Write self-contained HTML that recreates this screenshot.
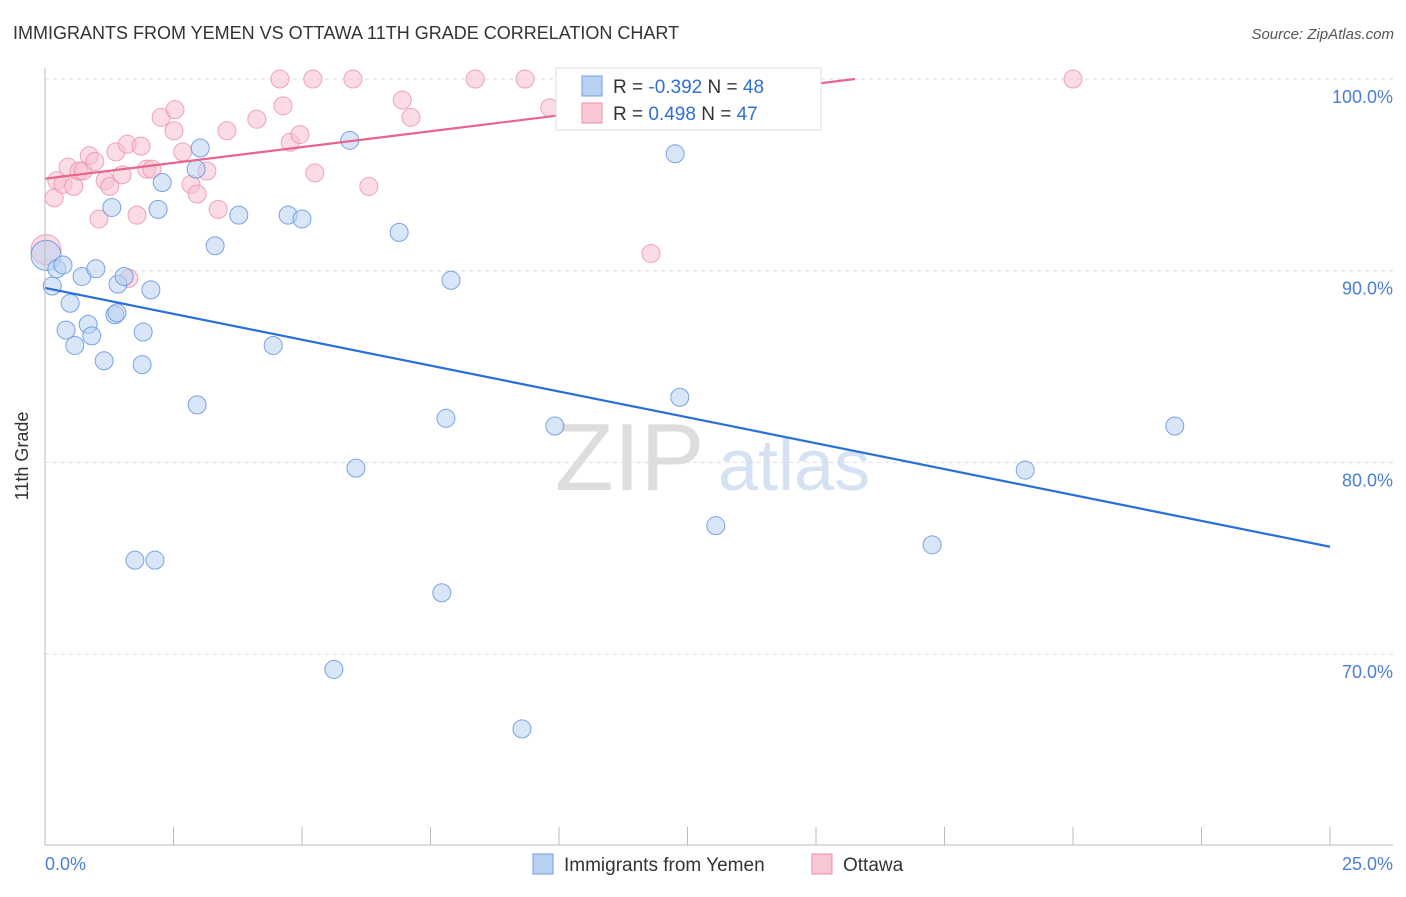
<!DOCTYPE html>
<html><head><meta charset="utf-8"><style>
body{margin:0;background:#fff;font-family:"Liberation Sans",sans-serif;}
svg text{font-family:"Liberation Sans",sans-serif;}
</style></head><body>
<svg width="1406" height="892">
<text x="13" y="39" font-size="18" fill="#333">IMMIGRANTS FROM YEMEN VS OTTAWA 11TH GRADE CORRELATION CHART</text>
<text x="1394" y="39" font-size="15" fill="#555" font-style="italic" text-anchor="end">Source: ZipAtlas.com</text>
<text x="555" y="490" font-size="96" fill="#ddd" font-family="Liberation Serif">ZIP</text>
<text x="718" y="490" font-size="72" fill="#d5e2f3">atlas</text>
<g id="grid"></g><g id="pts"></g><g id="lines"></g>
<line x1="45" y1="68" x2="45" y2="845" stroke="#bbb"/>
<line x1="45" y1="845" x2="1393" y2="845" stroke="#bbb"/>
<text x="28" y="456" font-size="18" fill="#333" transform="rotate(-90 28 456)" text-anchor="middle">11th Grade</text>
<text x="45" y="870" font-size="18" fill="#4a7fd4">0.0%</text>
<text x="1393" y="870" font-size="18" fill="#4a7fd4" text-anchor="end">25.0%</text>
<g>
<rect x="556" y="68" width="265" height="62" fill="#fff" stroke="#ddd"/>
<rect x="582" y="76" width="20" height="20" fill="#b9d2f3" stroke="#6d9ee6"/>
<rect x="582" y="103" width="20" height="20" fill="#f9c6d4" stroke="#ec8fab"/>
<text x="613" y="93" font-size="19" fill="#333">R = <tspan fill="#2f6fd6">-0.392</tspan>   N = <tspan fill="#2f6fd6">48</tspan></text>
<text x="613" y="120" font-size="19" fill="#333">R =  <tspan fill="#2f6fd6"> 0.498</tspan>   N = <tspan fill="#2f6fd6">47</tspan></text>
</g>
<g>
<rect x="533" y="854" width="20" height="20" fill="#b9d2f3" stroke="#6d9ee6"/>
<text x="564" y="871" font-size="19" fill="#333">Immigrants from Yemen</text>
<rect x="812" y="854" width="20" height="20" fill="#f9c6d4" stroke="#ec8fab"/>
<text x="843" y="871" font-size="19" fill="#333">Ottawa</text>
</g>
</svg>
<script>
const yTicks=[100,90,80,70];
const xTicks=[0,2.5,5,7.5,10,12.5,15,17.5,20,22.5,25];
const blueX=[0.02,0.14,0.23,0.35,0.49,0.41,0.58,0.84,0.72,0.99,0.91,1.15,1.30,1.36,1.42,1.54,1.89,1.91,2.06,2.20,2.28,1.75,2.14,2.96,2.94,3.02,3.31,3.77,4.44,4.73,5.00,5.93,6.05,5.62,6.89,7.72,7.80,7.90,9.28,9.92,12.26,12.35,13.05,17.26,19.07,21.98,1.40];
const blueY=[90.8,89.2,90.1,90.3,88.3,86.9,86.1,87.2,89.7,90.1,86.6,85.3,93.3,87.7,89.3,89.7,85.1,86.8,89.0,93.2,94.6,74.9,74.9,83.0,95.3,96.4,91.3,92.9,86.1,92.9,92.7,96.8,79.7,69.2,92.0,73.2,82.3,89.5,66.1,81.9,96.1,83.4,76.7,75.7,79.6,81.9,87.8];
const pinkX=[0.02,0.18,0.23,0.35,0.45,0.56,0.66,0.74,0.86,0.97,1.05,1.17,1.26,1.38,1.50,1.60,1.79,1.87,1.98,2.08,2.26,2.53,2.51,2.68,2.84,2.96,3.15,3.37,3.54,4.12,4.57,4.63,4.77,4.96,5.21,5.25,5.99,6.30,6.95,7.12,8.37,9.34,9.82,11.52,11.79,20.0,1.63];
const pinkY=[91.1,93.8,94.7,94.5,95.4,94.4,95.2,95.2,96.0,95.7,92.7,94.7,94.4,96.2,95.0,96.6,92.9,96.5,95.3,95.3,98.0,98.4,97.3,96.2,94.5,94.0,95.2,93.2,97.3,97.9,100,98.6,96.7,97.1,100,95.1,100,94.4,98.9,98.0,100,100,98.5,100,90.9,100,89.6];
const blueTrend=[89.1,75.6];
const pinkTrend=[94.8,0.33];
const X=v=>45+v/25*1285, Y=v=>79+(100-v)*19.17;
const NS="http://www.w3.org/2000/svg";
function mk(t,a,p){const e=document.createElementNS(NS,t);for(const k in a)e.setAttribute(k,a[k]);p.appendChild(e);return e;}
const g=document.getElementById('grid');
yTicks.forEach(t=>{
 const l=mk('line',{x1:45,x2:1393,y1:Y(t),y2:Y(t),stroke:'#ddd','stroke-dasharray':'4,4'},g);
 
 
 const tx=mk('text',{x:1393,y:Y(t)+24,'font-size':18,fill:'#4a7fd4','text-anchor':'end'},g);
 tx.textContent=t.toFixed(1)+'%';
 
 
});
xTicks.forEach(t=>{
 const l=mk('line',{x1:X(t),x2:X(t),y1:827,y2:845,stroke:'#bbb'},g);
 
 
});
const p=document.getElementById('pts');
function pts(xs,ys,fill,stroke,name){xs.forEach((x,i)=>{
 const c=mk('circle',{cx:X(x),cy:Y(ys[i]),r:(i==0?15:9),fill:fill,'fill-opacity':0.55,stroke:stroke,'stroke-opacity':0.8},p);
 
 
});}
pts(pinkX,pinkY,'#f7bfcf','#ec8fab','ottawa-point');
pts(blueX,blueY,'#b9d2f3','#5b8fe0','yemen-point');
const L=document.getElementById('lines');
const bl=mk('line',{x1:X(0),y1:Y(blueTrend[0]),x2:X(25),y2:Y(blueTrend[1]),stroke:'#2a6fd8','stroke-width':2.2},L);


const xEnd=Math.min(25,(100-pinkTrend[0])/pinkTrend[1]);
const pl=mk('line',{x1:X(0),y1:Y(pinkTrend[0]),x2:X(xEnd),y2:Y(pinkTrend[0]+pinkTrend[1]*xEnd),stroke:'#e8648c','stroke-width':2.2},L);


</script>
</body></html>
